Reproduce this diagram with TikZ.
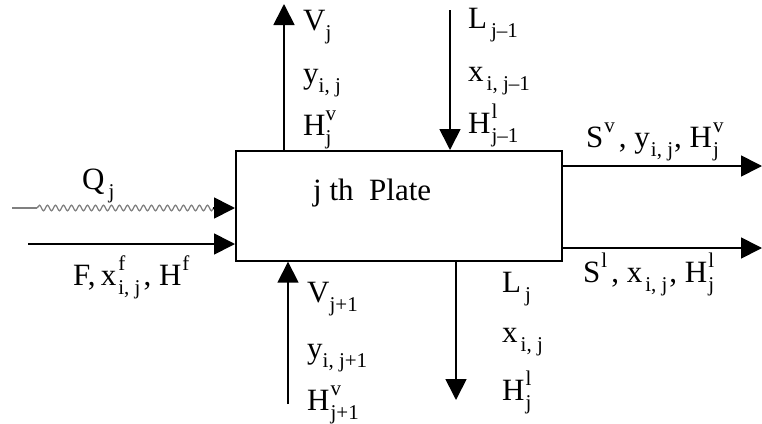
\documentclass[tikz,border=0pt]{standalone}
\usepackage{fontspec}
\setmainfont{Liberation Serif}
\usetikzlibrary{arrows.meta,decorations.pathmorphing}
\newcommand\lo[1]{\raisebox{-0.3em}{\fontsize{21}{21}\selectfont #1}}
\newcommand\hi[1]{\raisebox{0.48em}{\fontsize{21}{21}\selectfont #1}}
\newcommand\hilo[2]{\begingroup\setbox0=\hbox{\hi{#1}}\setbox2=\hbox{\lo{#2}}\ifdim\wd0>\wd2 \rlap{\box2}\box0\else\rlap{\box0}\box2\fi\endgroup}
\begin{document}
\begin{tikzpicture}[x=1pt,y=-1pt,
  lbl/.style={anchor=base west, inner sep=0pt, font=\fontsize{31}{37}\selectfont},
  flow/.style={line width=1.7pt, -{Triangle[length=21pt,width=21pt]}},
  heat/.style={line width=1.3pt, gray}]
\useasboundingbox (0,0) rectangle (762,423);
\node[draw, line width=1.7pt, minimum width=326pt, minimum height=110pt, inner sep=0pt, anchor=north west] (plate) at (235,150) {};
\node[lbl] (plabel) at (313,200) {j th\ \ Plate};
% free ends
\coordinate (qs) at (12,208);
\coordinate (qw) at (37,208);
\coordinate (qe) at (214,208);
\coordinate (fs) at (28,244);
\coordinate (vjt) at (284,4);
\coordinate (ljt) at (450,10);
\coordinate (svr) at (762,166);
\coordinate (slr) at (762,248);
\coordinate (vjb) at (288,404);
\coordinate (ljb) at (456,400);
% heat input
\draw[heat] (qs) -- (qw);
\draw[heat, decorate, decoration={snake, amplitude=2.8pt, segment length=8pt}] (qw) -- (qe);
\draw[flow, shorten <=-1pt] (qe) -- (qe -| plate.west);
\draw[flow] (fs) -- (fs -| plate.west);
\draw[flow] (vjt |- plate.north) -- (vjt);
\draw[flow] (ljt) -- (ljt |- plate.north);
\draw[flow] (svr -| plate.east) -- (svr);
\draw[flow] (slr -| plate.east) -- (slr);
\draw[flow] (vjb) -- (vjb |- plate.south);
\draw[flow] (ljb |- plate.south) -- (ljb);
% labels
\node[lbl] (lq) at (82,189) {Q\hspace{4pt}\lo{j}};
\node[lbl] (lf) at (73,285) {F,\,x\hspace{2pt}\hilo{f}{i, j}\hspace{3pt}, H\hspace{1pt}\hi{f}};
\node[lbl] (lv1) at (303,30) {V\lo{j}};
\node[lbl] (lv2) at (303,83) {y\lo{i, j}};
\node[lbl] (lv3) at (303,135) {H\hilo{v}{j}};
\node[lbl] (ll1) at (468,28) {L\hspace{4pt}\lo{j–1}};
\node[lbl] (ll2) at (468,81) {x\hspace{3pt}\lo{i, j–1}};
\node[lbl] (ll3) at (468,133) {H\hspace{1pt}\hilo{l}{j–1}};
\node[lbl] (ls1) at (586,147) {S\hspace{1pt}\hi{v}\hspace{4pt}, y\hspace{1pt}\lo{i, j}\hspace{1pt}, H\hspace{1pt}\hilo{v}{j}};
\node[lbl] (ls2) at (583,282) {S\hspace{1pt}\hi{l}\hspace{4pt}, x\hspace{3pt}\lo{i, j}\hspace{2pt}, H\hspace{1pt}\hilo{l}{j}};
\node[lbl] (lb1) at (307,302) {V\lo{j+1}};
\node[lbl] (lb2) at (307,358) {y\lo{i, j+1}};
\node[lbl] (lb3) at (307,410) {H\hspace{1pt}\hilo{v}{j+1}};
\node[lbl] (lc1) at (502,292) {L\hspace{4pt}\lo{j}};
\node[lbl] (lc2) at (502,342) {x\hspace{3pt}\lo{i, j}};
\node[lbl] (lc3) at (502,400) {H\hspace{1pt}\hilo{l}{j}};
\end{tikzpicture}
\end{document}
